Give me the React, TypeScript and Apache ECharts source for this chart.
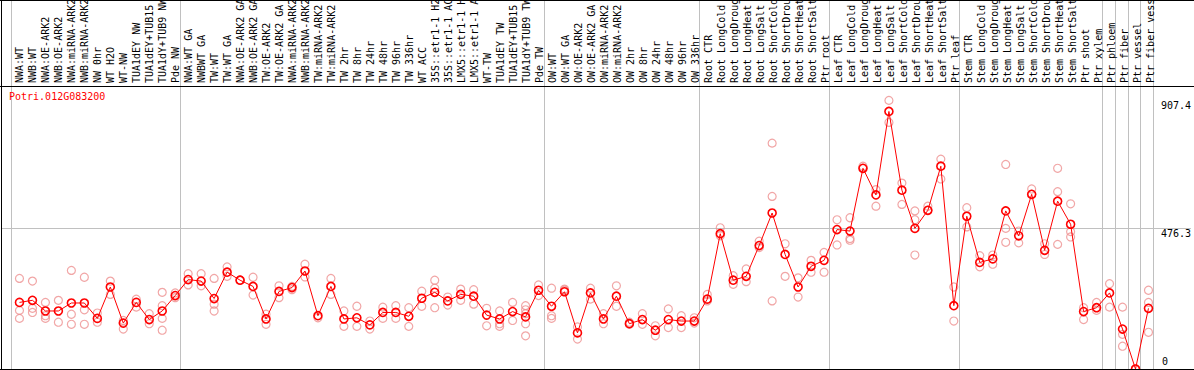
import React, { useEffect, useRef } from "react";
import * as echarts from "echarts";

const geneId = "Potri.012G083200";

const categories: string[] = [
  "NWA:WT", "NWB:WT", "NWA:OE-ARK2", "NWB:OE-ARK2", "NWA:miRNA-ARK2", "NWB:miRNA-ARK2",
  "NW 0hr", "WT H2O", "WT-NW", "TUA1dEY NW", "TUA1dEY+TUB15 NW", "TUA1dY+TUB9 NW", "Pde NW",
  "NWA:WT GA", "NWBWT GA", "TW:WT", "TW:WT GA", "NWA:OE-ARK2 GA", "NWB:OE-ARK2 GA",
  "TW:OE-ARK2", "TW:OE-ARK2 GA", "NWA:miRNA-ARK2", "NWB:miRNA-ARK2", "TW:miRNA-ARK2",
  "TW:miRNA-ARK2", "TW 2hr", "TW 8hr", "TW 24hr", "TW 48hr", "TW 96hr", "TW 336hr",
  "WT ACC", "35S::etr1-1 H2O", "35S::etr1-1 ACC", "LMX5::etr1-1 H2O", "LMX5::etr1-1 ACC",
  "WT-TW", "TUA1dEY TW", "TUA1dEY+TUB15 TW", "TUA1dY+TUB9 TW", "Pde TW",
  "OW:WT", "OW:WT GA", "OW:OE-ARK2", "OW:OE-ARK2 GA", "OW:miRNA-ARK2", "OW:miRNA-ARK2",
  "OW 2hr", "OW 8hr", "OW 24hr", "OW 48hr", "OW 96hr", "OW 336hr",
  "Root CTR", "Root LongCold", "Root LongDrought", "Root LongHeat", "Root LongSalt",
  "Root ShortCold", "Root ShortDrought", "Root ShortHeat", "Root ShortSalt", "Ptr root",
  "Leaf CTR", "Leaf LongCold", "Leaf LongDrought", "Leaf LongHeat", "Leaf LongSalt",
  "Leaf ShortCold", "Leaf ShortDrought", "Leaf ShortHeat", "Leaf ShortSalt", "Ptr leaf",
  "Stem CTR", "Stem LongCold", "Stem LongDrought", "Stem LongHeat", "Stem LongSalt",
  "Stem ShortCold", "Stem ShortDrought", "Stem ShortHeat", "Stem ShortSalt",
  "Ptr shoot", "Ptr xylem", "Ptr phloem", "Ptr fiber", "Ptr vessel", "Ptr fiber vessel",
];

const meanValues: number[] = [
  225, 232, 196, 196, 223, 223, 171, 277, 155, 225, 167, 196, 248, 302, 297, 238, 327, 300, 279, 169,
  262, 275, 331, 180, 279, 169, 173, 149, 191, 191,
  178, 239, 259, 230, 252, 246, 182, 169, 194, 176, 266, 212, 261, 122, 257, 169, 246, 153, 167, 131,
  167, 162, 162, 236, 457, 300, 313, 417, 527, 387, 277,
  347, 367, 471, 466, 678, 588, 870, 604, 475, 536, 685, 214, 516, 360, 372, 534, 450, 590, 401,
  567, 489, 194, 207, 257, 135, 0, 205,
];

const replicateValues: number[][] = [
  [306, 198, 171], [297, 205, 191], [225, 180, 171], [232, 158], [333, 185, 151], [310, 200, 151],
  [189, 158], [297, 252], [164, 135], [236, 209], [187, 153], [259, 214, 171, 131], [257, 241],
  [322, 284], [322, 281], [306, 219, 196], [345, 313], [300, 300], [310, 250], [185, 151],
  [281, 241], [279, 268], [354, 311], [173], [306, 252], [196, 144], [212, 144], [162, 135],
  [209, 171], [214, 171], [207, 144], [263, 212], [300, 273, 207], [243, 216], [270, 232],
  [268, 219], [205, 146], [196, 153, 144], [225, 164], [214, 200, 187, 153, 112], [284, 248],
  [273, 180, 171], [270, 266], [142, 101], [273, 236], [187, 153], [281, 212], [158, 151],
  [187, 151], [146, 112], [203, 140], [180, 140], [173, 155], [252, 230], [477, 450],
  [315, 286], [338, 295], [432, 410], [763, 583, 230], [423, 313], [308, 243], [367, 327],
  [394, 327], [504, 419], [511, 441, 435], [685, 678], [606, 550], [907.4, 833], [628, 556],
  [534, 504, 385], [550, 536], [709, 642], [277, 162], [545, 480], [383, 345], [385, 354],
  [691, 475, 428], [466, 426], [608, 590], [423, 387], [678, 599, 421], [558, 464, 446],
  [207, 167], [225, 198], [288, 209], [209, 117, 77], [0], [266, 225, 124],
];

// group separators sit just after these category indices
const separatorsAfter: number[] = [-1, 12, 40, 52, 62, 72, 83, 84, 85, 86, 87];

const axisMax = 952.6;
const midTick = 476.3;
const maxTick = 907.4;

const MONO = "DejaVu Sans Mono";

export default function App() {
  const ref = useRef<HTMLDivElement>(null);

  useEffect(() => {
    document.body.style.margin = "0";
    if (!ref.current) return;
    const chart = echarts.init(ref.current, undefined, { renderer: "svg" });

    const W = 1194;
    const step = 13;
    const firstX = 19.5;
    const xMin = (1 - firstX) / step;
    const xMax = xMin + (W - 2) / step;

    const meanData = meanValues.map((v, i) => [i, v]);
    const repData: number[][] = [];
    replicateValues.forEach((arr, i) => arr.forEach((v) => repData.push([i, v])));

    chart.setOption({
      animation: false,
      title: {
        text: geneId,
        left: 9,
        top: 91,
        padding: 0,
        textStyle: { color: "#ff0000", fontSize: 10, fontFamily: MONO, fontWeight: "normal" },
      },
      grid: [
        { left: 1, right: 1, top: 87, bottom: 1 },
        { left: 13, width: 1144, top: 0, height: 86 },
      ],
      xAxis: [
        { type: "value", gridIndex: 0, min: xMin, max: xMax, show: false },
        {
          type: "category",
          gridIndex: 1,
          data: categories,
          position: "bottom",
          axisLine: { show: false },
          axisTick: { show: false },
          axisLabel: {
            inside: true,
            rotate: 90,
            interval: 0,
            margin: 3,
            fontSize: 10,
            fontFamily: MONO,
            color: "#000",
          },
        },
      ],
      yAxis: [
        {
          type: "value",
          gridIndex: 0,
          min: 0,
          max: axisMax,
          position: "right",
          axisLine: { show: false },
          axisTick: { show: false },
          splitLine: { show: false },
          axisLabel: {
            inside: true,
            customValues: [midTick, maxTick],
            formatter: (v: number) => v.toFixed(1),
            align: "left",
            verticalAlign: "top",
            margin: 30,
            fontSize: 10,
            fontFamily: MONO,
            color: "#000",
          },
        },
        {
          type: "value",
          gridIndex: 0,
          min: 0,
          max: axisMax,
          position: "right",
          axisLine: { show: false },
          axisTick: { show: false },
          splitLine: { show: false },
          axisLabel: {
            inside: true,
            customValues: [0],
            formatter: (v: number) => String(v),
            align: "left",
            verticalAlign: "bottom",
            padding: [0, 0, 3, 0],
            margin: 29,
            fontSize: 10,
            fontFamily: MONO,
            color: "#000",
          },
        },
        { type: "value", gridIndex: 1, show: false },
      ],
      series: [
        {
          type: "scatter",
          xAxisIndex: 0,
          yAxisIndex: 0,
          data: repData,
          symbol: "circle",
          symbolSize: 8,
          clip: false,
          itemStyle: { color: "rgba(0,0,0,0)", borderColor: "#ee9090", borderWidth: 1.2 },
          z: 2,
        },
        {
          type: "line",
          xAxisIndex: 0,
          yAxisIndex: 0,
          data: meanData,
          symbol: "circle",
          symbolSize: 8,
          clip: false,
          lineStyle: { color: "#ff0000", width: 1 },
          itemStyle: { color: "rgba(0,0,0,0)", borderColor: "#ff0000", borderWidth: 1.6 },
          z: 3,
          markLine: {
            silent: true,
            symbol: "none",
            label: { show: false },
            lineStyle: { color: "#c0c0c0", type: "solid", width: 1 },
            data: [{ yAxis: midTick }],
            z: 1,
          },
        },
      ],
    });

    const sepLines = separatorsAfter.map((i) => {
      const x = Math.round(chart.convertToPixel({ xAxisIndex: 0 }, i + 0.385) as number) + 0.5;
      return {
        type: "line",
        z: 0,
        shape: { x1: x, y1: 0, x2: x, y2: 369 },
        style: { stroke: "#c0c0c0", lineWidth: 1 },
      };
    });
    const frame = [
      { type: "line", z: 5, shape: { x1: 1.5, y1: 0, x2: 1.5, y2: 370 }, style: { stroke: "#000", lineWidth: 1 } },
      { type: "line", z: 5, shape: { x1: 0, y1: 0.5, x2: W, y2: 0.5 }, style: { stroke: "#000", lineWidth: 1 } },
      { type: "line", z: 5, shape: { x1: 0, y1: 86.5, x2: W, y2: 86.5 }, style: { stroke: "#000", lineWidth: 1 } },
      { type: "line", z: 5, shape: { x1: 0, y1: 369.5, x2: W, y2: 369.5 }, style: { stroke: "#000", lineWidth: 1 } },
    ];
    chart.setOption({ graphic: [...sepLines, ...frame] });

    return () => chart.dispose();
  }, []);

  return <div ref={ref} style={{ width: 1194, height: 370 }} />;
}
